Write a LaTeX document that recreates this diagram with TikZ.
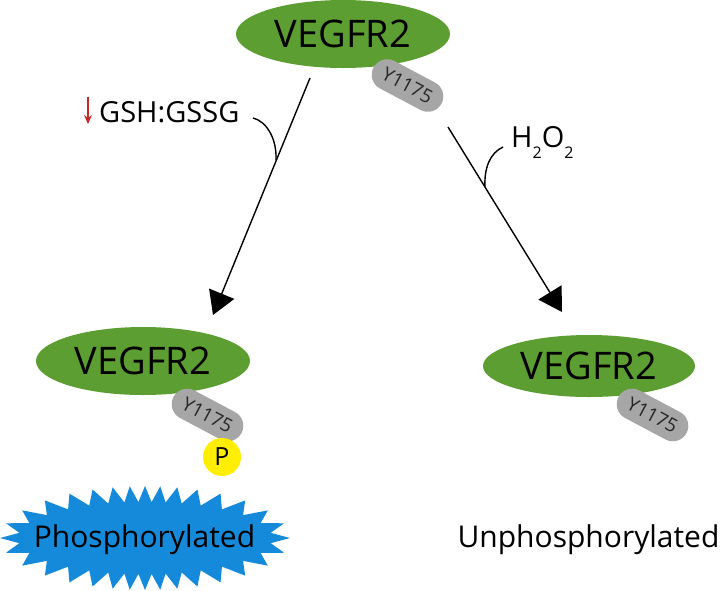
\documentclass[tikz,border=0pt]{standalone}
\usepackage{fontspec}
\setmainfont{Open Sans}
\usetikzlibrary{arrows.meta,shapes.geometric}
\definecolor{vgreen}{RGB}{92,158,49}
\definecolor{pillgray}{RGB}{166,166,166}
\definecolor{burstblue}{RGB}{22,138,218}
\definecolor{pyellow}{RGB}{255,238,0}
\definecolor{downred}{RGB}{200,40,40}
\newcommand{\fs}[1]{\fontsize{#1}{#1}\selectfont}
\tikzset{
  receptor/.style={ellipse, fill=vgreen, inner sep=0pt, font=\fs{38}, text=black},
  pill/.style={rectangle, rounded corners=15.5pt, fill=pillgray, minimum width=77pt,
    minimum height=31pt, inner sep=0pt, font=\fs{19}, text=black!85},
  conn/.style={line width=1.4pt, -{Triangle[length=23pt,width=27pt]}},
  sidearc/.style={line width=1.4pt},
  lab/.style={inner sep=0pt, font=\fs{29}, text=black},
  state/.style={inner sep=0pt, font=\fs{30}, text=black}
}
\begin{document}
\begin{tikzpicture}[x=1pt,y=-1pt]
\useasboundingbox (0,0) rectangle (722,590);
\fill[white] (0,0) rectangle (722,590);

% receptors
\node[receptor, minimum width=214pt, minimum height=68pt] (rtop) at (343,34) {VEGFR2};
\node[pill, rotate=-28] (ytop) at (407.5,85.5) {Y1175};

\node[receptor, minimum width=214pt, minimum height=68pt] (rleft) at (143,361) {VEGFR2};
\node[pill, rotate=-28] (yleft) at (207.5,415) {Y1175};
\node[circle, fill=pyellow, minimum size=38pt, inner sep=0pt, font=\fs{25}, text=black] (phos) at (222,457) {P};

\node[receptor, minimum width=212pt, minimum height=62pt] (rright) at (589,366) {VEGFR2};
\node[pill, rotate=-28] (yright) at (652.5,415) {Y1175};

% connectors
\coordinate (l1s) at (310,78);
\coordinate (l1e) at (213,315);
\coordinate (l2s) at (448,127);
\coordinate (l2e) at (562,312);
\draw[conn] (l1s) -- (l1e);
\draw[conn] (l2s) -- (l2e);

\coordinate (c1s) at (253,118);
\coordinate (c1e) at (276,160);
\draw[sidearc] (c1s) .. controls (266,121) and (277,138) .. (c1e);
\coordinate (c2s) at (503,147);
\coordinate (c2e) at (485,187);
\draw[sidearc] (c2s) .. controls (490,153) and (484,168) .. (c2e);

% labels
\node[lab, anchor=base west] (gsh) at (99,122) {GSH:GSSG};
\coordinate (ra1) at (88,97);
\coordinate (ra2) at (88,124);
\draw[downred, line width=1.2pt, -{Stealth[length=9pt,width=8pt]}] (ra1) -- (ra2);
\node[lab, anchor=base west] (h2o2) at (511,147) {H\raisebox{-11pt}{\fs{16}2}O\raisebox{-11pt}{\fs{16}2}};

% starburst
\foreach \k in {0,...,63}{
  \pgfmathsetmacro\u{\k*5.625}
  \pgfmathsetmacro\t{\u+13.6*sin(2*\u)}
  \ifodd\k \def\rx{127}\def\ry{36}\else\def\rx{145}\def\ry{52}\fi
  \coordinate (sb\k) at ({145+\rx*cos(\t)},{538+\ry*sin(\t)});
}
\fill[burstblue] (sb0) \foreach \k in {1,...,63}{ -- (sb\k) } -- cycle;
\node[state, anchor=base] (phosd) at (144.5,547) {Phosphorylated};
\node[state, anchor=base] (unphos) at (588.5,547) {Unphosphorylated};
\end{tikzpicture}
\end{document}
